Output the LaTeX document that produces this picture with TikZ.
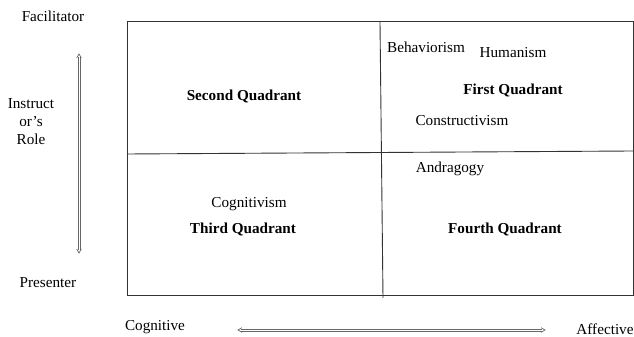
\documentclass[tikz,border=0pt]{standalone}
\usepackage{fontspec}
\setmainfont{Liberation Serif}

\begin{document}
\begin{tikzpicture}[x=1pt,y=1pt,font=\fontsize{15.2}{18}\selectfont,
    frame/.style={draw=black!80,line width=0.9pt},
    quad/.style={font=\fontsize{15.2}{18}\selectfont\bfseries},
    axisline/.style={draw=black!60,line width=0.7pt},
    axistip/.style={draw=black!60,line width=0.7pt,line join=miter}]

    \useasboundingbox (0,0) rectangle (634,337);

    % frame and quadrant lines
    \coordinate (tl) at (127,316);
    \coordinate (br) at (633,42);
    \draw[frame] (tl) rectangle (br);
    \coordinate (vtop) at (380,315);
    \coordinate (vbot) at (383,39);
    \coordinate (hleft) at (127,183);
    \coordinate (hright) at (633,186);
    \draw[frame] (vtop) -- (vbot);
    \draw[frame] (hleft) -- (hright);

    % quadrant labels
    \node[quad] (second) at (244,241) {Second Quadrant};
    \node[quad] (first) at (513,247) {First Quadrant};
    \node[quad] (third) at (243,108) {Third Quadrant};
    \node[quad] (fourth) at (505,108) {Fourth Quadrant};

    \node[] (behav) at (426,290) {Behaviorism};
    \node[] (human) at (513,284) {Humanism};
    \node[] (constr) at (462,216) {Constructivism};
    \node[] (andra) at (450,168) {Andragogy};
    \node[] (cogn) at (249,133) {Cognitivism};

    % role axis (double arrow)
    \node[] (facil) at (53,321) {Facilitator};
    \node[align=center] (role) at (31,215) {Instruct\\or's\\Role};
    \node[] (present) at (48,54) {Presenter};
    \coordinate (rtop) at (79,280);
    \coordinate (rbot) at (79,87);
    \foreach \s in {-1.1,1.1}
        \draw[axisline] ([xshift=\s pt]rtop) -- ([xshift=\s pt]rbot);
    \draw[axistip] ([xshift=-2.3pt,yshift=-1pt]rtop) -- ([yshift=3pt]rtop) -- ([xshift=2.3pt,yshift=-1pt]rtop);
    \draw[axistip] ([xshift=-2.3pt,yshift=1pt]rbot) -- ([yshift=-3pt]rbot) -- ([xshift=2.3pt,yshift=1pt]rbot);

    % domain axis (double arrow)
    \node[] (cogtive) at (155,10) {Cognitive};
    \node[] (affect) at (605,8) {Affective};
    \coordinate (dleft) at (241,7);
    \coordinate (dright) at (542,7);
    \foreach \s in {-1.1,1.1}
        \draw[axisline] ([yshift=\s pt]dleft) -- ([yshift=\s pt]dright);
    \draw[axistip] ([xshift=1pt,yshift=2.3pt]dleft) -- ([xshift=-3pt]dleft) -- ([xshift=1pt,yshift=-2.3pt]dleft);
    \draw[axistip] ([xshift=-1pt,yshift=2.3pt]dright) -- ([xshift=3pt]dright) -- ([xshift=-1pt,yshift=-2.3pt]dright);

\end{tikzpicture}
\end{document}
